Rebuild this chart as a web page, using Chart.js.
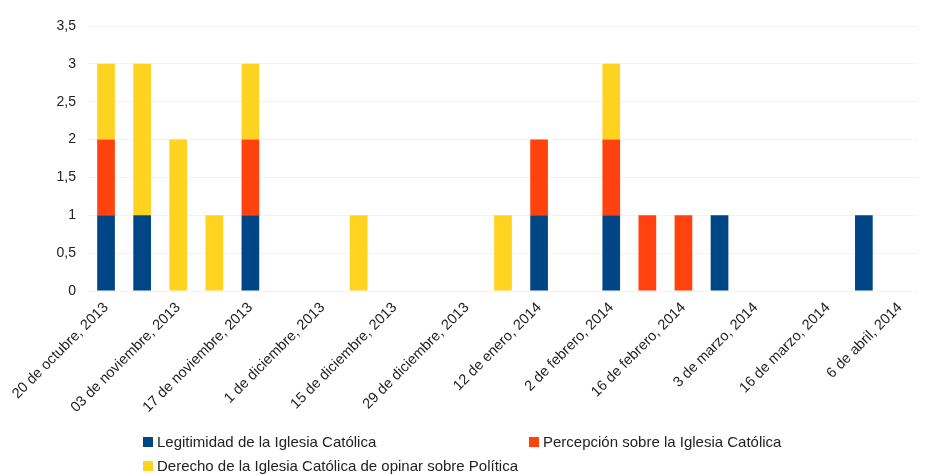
<!DOCTYPE html>
<html>
<head>
<meta charset="utf-8">
<script src="https://cdn.jsdelivr.net/npm/chart.js@4/dist/chart.umd.min.js"></script>
<style>
html,body{margin:0;padding:0;background:#fff;}
#wrap{position:relative;width:928px;height:474px;}
#legend{position:absolute;left:0;top:0;width:928px;height:474px;pointer-events:none;font-family:"Liberation Sans",Arial,sans-serif;font-size:15px;color:#222;}
.li{position:absolute;white-space:nowrap;line-height:16px;}
.sw{display:inline-block;width:10px;height:10px;margin-right:4px;vertical-align:0px;}
</style>
</head>
<body>
<div id="wrap">
<canvas id="c" width="928" height="474"></canvas>
<div id="legend"></div>
</div>
<script>
const categories = [
  "20 de octubre, 2013","27 de octubre, 2013","03 de noviembre, 2013","10 de noviembre, 2013",
  "17 de noviembre, 2013","24 de noviembre, 2013","1 de diciembre, 2013","8 de diciembre, 2013",
  "15 de diciembre, 2013","22 de diciembre, 2013","29 de diciembre, 2013","5 de enero, 2014",
  "12 de enero, 2014","19 de enero, 2014","2 de febrero, 2014","9 de febrero, 2014",
  "16 de febrero, 2014","23 de febrero, 2014","3 de marzo, 2014","9 de marzo, 2014",
  "16 de marzo, 2014","23 de marzo, 2014","6 de abril, 2014"
];
const seriesNames = [
  "Legitimidad de la Iglesia Católica",
  "Percepción sobre la Iglesia Católica",
  "Derecho de la Iglesia Católica de opinar sobre Política"
];
const legitimidad = [1,1,0,0,1,0,0,0,0,0,0,0,1,0,1,0,0,1,0,0,0,1,0];
const percepcion  = [1,0,0,0,1,0,0,0,0,0,0,0,1,0,1,1,1,0,0,0,0,0,0];
const derecho     = [1,2,2,1,1,0,0,1,0,0,0,1,0,0,1,0,0,0,0,0,0,0,0];
const yTicks = [0,0.5,1,1.5,2,2.5,3,3.5];
const colors = ["#004586","#ff420e","#ffd320"];

const fam = '"Liberation Sans", Arial, sans-serif';
const chart = new Chart(document.getElementById('c'), {
  type:'bar',
  data:{
    labels:categories,
    datasets:[legitimidad,percepcion,derecho].map((d,i)=>({
      label:seriesNames[i], data:d, backgroundColor:colors[i], borderWidth:0,
      barPercentage:0.49, categoryPercentage:1
    }))
  },
  options:{
    responsive:false, animation:false,
    layout:{padding:{left:0,right:10,top:26,bottom:0}},
    plugins:{legend:{display:false},tooltip:{enabled:false}},
    scales:{
      x:{
        stacked:true, offset:true,
        grid:{display:false},
        border:{display:false},
        ticks:{
          font:{family:fam,size:14.5}, color:'#222', maxRotation:45, minRotation:45, autoSkip:false, padding:0,
          callback:function(v,i){return i%2===0 ? categories[i] : '';}
        },
        afterFit:function(s){s.height = 474-291;}
      },
      y:{
        stacked:true, min:0, max:3.5,
        afterBuildTicks:function(s){s.ticks = yTicks.map(v=>({value:v}));},
        grid:{color:'#f3f3f3', drawTicks:false},
        border:{display:false},
        ticks:{font:{family:fam,size:14}, color:'#222', padding:12,
          callback:function(v){return String(v).replace('.',',');}},
        afterFit:function(s){s.width = 88;}
      }
    }
  }
});

const lg = document.getElementById('legend');
const pos = [[143,434],[529,434],[143,458]];
chart.data.datasets.forEach((ds,i)=>{
  const el = document.createElement('div');
  el.className='li';
  el.style.left=pos[i][0]+'px'; el.style.top=pos[i][1]+'px';
  const sw=document.createElement('span'); sw.className='sw'; sw.style.background=ds.backgroundColor;
  el.appendChild(sw);
  el.appendChild(document.createTextNode(ds.label));
  lg.appendChild(el);
});
</script>
</body>
</html>
